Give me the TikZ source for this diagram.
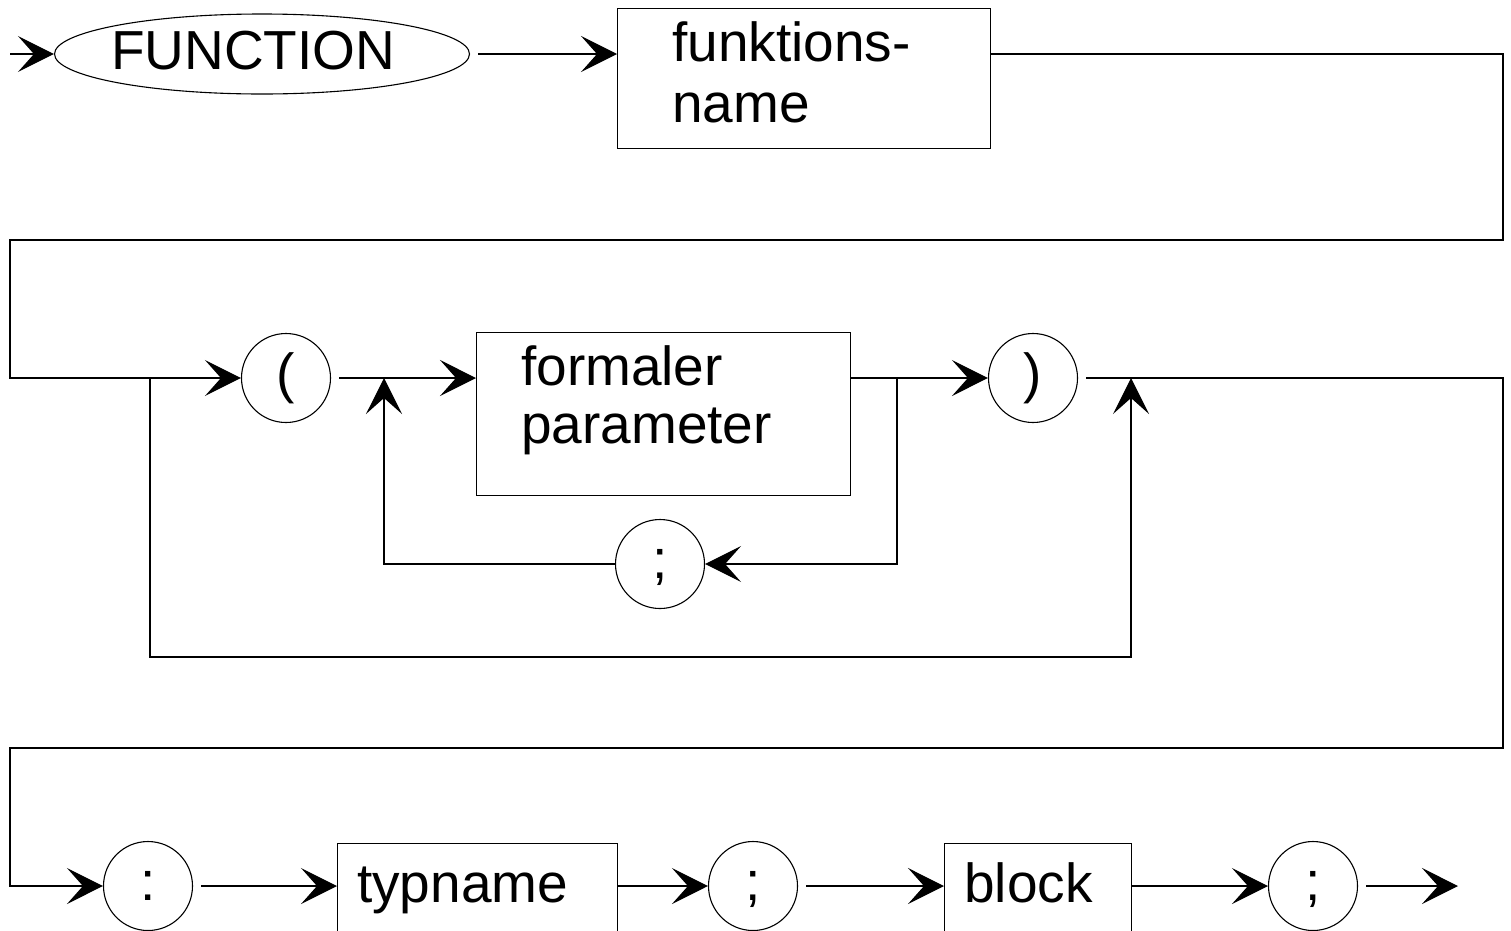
\documentclass[tikz,border=0pt]{standalone}
\usepackage{fontspec}
\setmainfont{Liberation Sans}
\usetikzlibrary{arrows.meta,shapes.geometric}
\begin{document}
\begin{tikzpicture}[x=1pt,y=-1pt,
  font=\fontsize{55}{60}\selectfont,
  rail/.style={line width=1.2pt},
  flow/.style={rail,-{Stealth[length=36pt,width=36pt,inset=16pt]}},
  gap/.style={shorten <=8pt},
  term/.style={draw,line width=1.1pt,circle,minimum size=89pt,inner sep=0pt,
    text height=40pt,text depth=11.5pt},
  nonterm/.style={draw,line width=1.1pt,rectangle,inner sep=0pt,anchor=north west},
  lbl/.style={anchor=base west,inner sep=0pt}]
\useasboundingbox (0,0) rectangle (1511,930);
\clip (0,0) rectangle (1511,930);

% first row: FUNCTION funktionsname
\coordinate (start) at (10,54);
\node[draw,ellipse,line width=1.1pt,minimum width=415pt,minimum height=80pt,inner sep=0pt] (fun) at (262,54) {};
\node[lbl] (funl) at (111,69) {FUNCTION};
\node[nonterm,minimum width=373pt,minimum height=140pt] (fn) at (617,8) {};
\node[lbl] (fnA) at (672,61) {funktions-};
\node[lbl] (fnB) at (672,122) {name};

% second row: optional parameter list
\node[term] (lp) at (286,378) {(};
\node[nonterm,minimum width=374pt,minimum height=163pt] (fp) at (476,332) {};
\node[lbl] (fpA) at (521,385) {formaler};
\node[lbl] (fpB) at (521,443) {parameter};
\node[term] (sc) at (660,564) {;};
\node[term] (rp) at (1033,378) {)};

% third row: result type and block
\node[term] (co) at (148,886) {:};
\node[nonterm,minimum width=280pt,minimum height=140pt] (tn) at (337,843) {};
\node[lbl] (tnl) at (357,902) {typname};
\node[term] (s1) at (753,886) {;};
\node[nonterm,minimum width=187pt,minimum height=140pt] (bk) at (944,843) {};
\node[lbl] (bkl) at (964,902) {block};
\node[term] (s2) at (1313,886) {;};

% rail corners and junctions
\coordinate (e1) at (1503,54);
\coordinate (e2) at (1503,240);
\coordinate (w1) at (10,240);
\coordinate (bj) at (150,378);
\coordinate (bl) at (150,657);
\coordinate (bk2) at (1131,378);
\coordinate (lj) at (384,378);
\coordinate (rj) at (897,378);
\coordinate (e3) at (1503,378);
\coordinate (e4) at (1503,748);
\coordinate (w2) at (10,748);
\coordinate (fin) at (1458,886);

% row one
\draw[flow] (start) -- (fun.west);
\draw[flow,gap] (fun.east) -- (fun.east -| fn.west);
\draw[flow] (fn.east |- fun.east) -- (e1) -- (e2) -- (w1) -- (w1 |- lp.west) -- (lp.west);

% row two
\draw[flow,gap] (lp.east) -- (lp.east -| fp.west);
\draw[flow] (fp.east |- lp.east) -- (rp.west);
\draw[flow] (rj) -- (rj |- sc.east) -- (sc.east);
\draw[flow] (sc.west) -- (lj |- sc.west) -- (lj);
\draw[flow] (bj) -- (bl) -- (bl -| bk2) -- (bk2);
\draw[flow,gap] (rp.east) -- (e3) -- (e4) -- (w2) -- (w2 |- co.west) -- (co.west);

% row three
\draw[flow,gap] (co.east) -- (co.east -| tn.west);
\draw[flow] (tn.east |- s1.west) -- (s1.west);
\draw[flow,gap] (s1.east) -- (s1.east -| bk.west);
\draw[flow] (bk.east |- s2.west) -- (s2.west);
\draw[flow,gap] (s2.east) -- (fin);
\end{tikzpicture}
\end{document}
